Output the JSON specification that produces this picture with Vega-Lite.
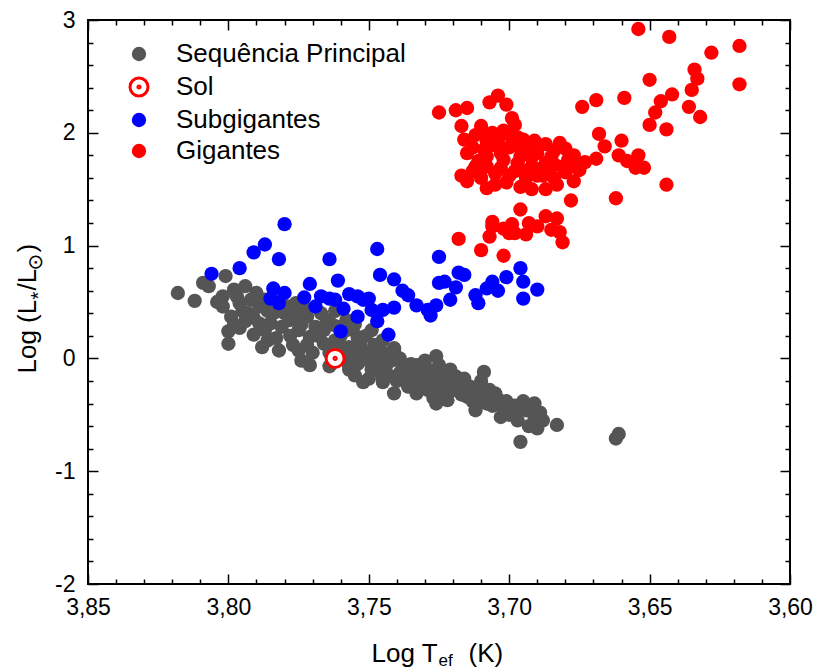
{
"$schema":"https://vega.github.io/schema/vega-lite/v6.json",
"width":702,"height":564,
"autosize":{"type":"none"},
"padding":{"left":88,"top":20,"right":24,"bottom":85},
"background":"white",
"config":{"view":{"stroke":"black","strokeWidth":2},"font":"Liberation Sans",
 "legend":{"title":null,"labelFontSize":26,"labelFont":"Liberation Sans","labelColor":"black","labelOffset":24,"labelLimit":0,"rowPadding":5,"padding":0}},
"datasets":{"stars":[
{"t":3.818,"l":0.58,"g":"Sequência Principal"},{"t":3.812,"l":0.51,"g":"Sequência Principal"},{"t":3.809,"l":0.67,"g":"Sequência Principal"},{"t":3.807,"l":0.64,"g":"Sequência Principal"},{"t":3.801,"l":0.73,"g":"Sequência Principal"},{"t":3.802,"l":0.55,"g":"Sequência Principal"},{"t":3.802,"l":0.46,"g":"Sequência Principal"},{"t":3.799,"l":0.37,"g":"Sequência Principal"},{"t":3.8,"l":0.24,"g":"Sequência Principal"},{"t":3.8,"l":0.13,"g":"Sequência Principal"},
{"t":3.798,"l":0.61,"g":"Sequência Principal"},{"t":3.794,"l":0.64,"g":"Sequência Principal"},{"t":3.796,"l":0.49,"g":"Sequência Principal"},{"t":3.793,"l":0.4,"g":"Sequência Principal"},{"t":3.796,"l":0.27,"g":"Sequência Principal"},{"t":3.792,"l":0.52,"g":"Sequência Principal"},{"t":3.79,"l":0.58,"g":"Sequência Principal"},{"t":3.789,"l":0.46,"g":"Sequência Principal"},{"t":3.789,"l":0.31,"g":"Sequência Principal"},{"t":3.791,"l":0.21,"g":"Sequência Principal"},
{"t":3.786,"l":0.16,"g":"Sequência Principal"},{"t":3.788,"l":0.1,"g":"Sequência Principal"},{"t":3.782,"l":0.07,"g":"Sequência Principal"},{"t":3.784,"l":0.4,"g":"Sequência Principal"},{"t":3.785,"l":0.31,"g":"Sequência Principal"},{"t":3.779,"l":0.46,"g":"Sequência Principal"},{"t":3.778,"l":0.34,"g":"Sequência Principal"},{"t":3.776,"l":0.49,"g":"Sequência Principal"},{"t":3.775,"l":0.25,"g":"Sequência Principal"},{"t":3.772,"l":0.37,"g":"Sequência Principal"},
{"t":3.771,"l":0.19,"g":"Sequência Principal"},{"t":3.771,"l":-0.06,"g":"Sequência Principal"},{"t":3.775,"l":0.07,"g":"Sequência Principal"},{"t":3.769,"l":0.28,"g":"Sequência Principal"},{"t":3.766,"l":0.13,"g":"Sequência Principal"},{"t":3.765,"l":0.34,"g":"Sequência Principal"},{"t":3.764,"l":-0.07,"g":"Sequência Principal"},{"t":3.762,"l":0.16,"g":"Sequência Principal"},{"t":3.758,"l":0.34,"g":"Sequência Principal"},{"t":3.757,"l":-0.07,"g":"Sequência Principal"},
{"t":3.752,"l":-0.21,"g":"Sequência Principal"},{"t":3.745,"l":-0.21,"g":"Sequência Principal"},{"t":3.741,"l":-0.31,"g":"Sequência Principal"},{"t":3.752,"l":0.05,"g":"Sequência Principal"},{"t":3.747,"l":-0.04,"g":"Sequência Principal"},{"t":3.741,"l":0.07,"g":"Sequência Principal"},{"t":3.738,"l":-0.07,"g":"Sequência Principal"},{"t":3.733,"l":-0.16,"g":"Sequência Principal"},{"t":3.726,"l":0.02,"g":"Sequência Principal"},{"t":3.725,"l":-0.16,"g":"Sequência Principal"},
{"t":3.726,"l":-0.4,"g":"Sequência Principal"},{"t":3.724,"l":-0.25,"g":"Sequência Principal"},{"t":3.733,"l":-0.31,"g":"Sequência Principal"},{"t":3.731,"l":-0.07,"g":"Sequência Principal"},{"t":3.745,"l":0.16,"g":"Sequência Principal"},{"t":3.754,"l":0.19,"g":"Sequência Principal"},{"t":3.749,"l":0.25,"g":"Sequência Principal"},{"t":3.761,"l":0.28,"g":"Sequência Principal"},{"t":3.757,"l":-0.1,"g":"Sequência Principal"},{"t":3.733,"l":-0.06,"g":"Sequência Principal"},
{"t":3.725,"l":-0.06,"g":"Sequência Principal"},{"t":3.722,"l":-0.37,"g":"Sequência Principal"},{"t":3.72,"l":-0.19,"g":"Sequência Principal"},{"t":3.715,"l":-0.34,"g":"Sequência Principal"},{"t":3.713,"l":-0.28,"g":"Sequência Principal"},{"t":3.709,"l":-0.12,"g":"Sequência Principal"},{"t":3.712,"l":-0.46,"g":"Sequência Principal"},{"t":3.708,"l":-0.4,"g":"Sequência Principal"},{"t":3.705,"l":-0.31,"g":"Sequência Principal"},{"t":3.703,"l":-0.52,"g":"Sequência Principal"},
{"t":3.699,"l":-0.46,"g":"Sequência Principal"},{"t":3.695,"l":-0.38,"g":"Sequência Principal"},{"t":3.691,"l":-0.4,"g":"Sequência Principal"},{"t":3.691,"l":-0.52,"g":"Sequência Principal"},{"t":3.69,"l":-0.62,"g":"Sequência Principal"},{"t":3.696,"l":-0.74,"g":"Sequência Principal"},{"t":3.683,"l":-0.59,"g":"Sequência Principal"},{"t":3.729,"l":-0.28,"g":"Sequência Principal"},{"t":3.735,"l":-0.21,"g":"Sequência Principal"},{"t":3.722,"l":-0.15,"g":"Sequência Principal"},
{"t":3.717,"l":-0.25,"g":"Sequência Principal"},{"t":3.739,"l":-0.13,"g":"Sequência Principal"},{"t":3.751,"l":-0.01,"g":"Sequência Principal"},{"t":3.744,"l":0.02,"g":"Sequência Principal"},{"t":3.662,"l":-0.71,"g":"Sequência Principal"},{"t":3.661,"l":-0.67,"g":"Sequência Principal"},{"t":3.697,"l":-0.47,"g":"Sequência Principal"},{"t":3.705,"l":-0.33,"g":"Sequência Principal"},{"t":3.71,"l":-0.32,"g":"Sequência Principal"},{"t":3.715,"l":-0.26,"g":"Sequência Principal"},
{"t":3.719,"l":-0.16,"g":"Sequência Principal"},{"t":3.741,"l":0.09,"g":"Sequência Principal"},{"t":3.745,"l":-0.19,"g":"Sequência Principal"},{"t":3.692,"l":-0.41,"g":"Sequência Principal"},
{"t":3.797,"l":0.55,"g":"Sequência Principal"},{"t":3.795,"l":0.42,"g":"Sequência Principal"},{"t":3.794,"l":0.33,"g":"Sequência Principal"},{"t":3.791,"l":0.36,"g":"Sequência Principal"},{"t":3.787,"l":0.52,"g":"Sequência Principal"},{"t":3.787,"l":0.25,"g":"Sequência Principal"},{"t":3.786,"l":0.42,"g":"Sequência Principal"},{"t":3.783,"l":0.55,"g":"Sequência Principal"},{"t":3.783,"l":0.18,"g":"Sequência Principal"},{"t":3.781,"l":0.28,"g":"Sequência Principal"},
{"t":3.78,"l":0.4,"g":"Sequência Principal"},{"t":3.804,"l":0.5,"g":"Sequência Principal"},{"t":3.798,"l":0.3,"g":"Sequência Principal"},{"t":3.778,"l":0.2,"g":"Sequência Principal"},{"t":3.777,"l":0.12,"g":"Sequência Principal"},{"t":3.776,"l":0.4,"g":"Sequência Principal"},{"t":3.774,"l":0.3,"g":"Sequência Principal"},{"t":3.773,"l":0.45,"g":"Sequência Principal"},{"t":3.772,"l":0.12,"g":"Sequência Principal"},{"t":3.77,"l":0.05,"g":"Sequência Principal"},
{"t":3.768,"l":0.2,"g":"Sequência Principal"},{"t":3.767,"l":0.4,"g":"Sequência Principal"},{"t":3.766,"l":0.25,"g":"Sequência Principal"},{"t":3.764,"l":0.05,"g":"Sequência Principal"},{"t":3.763,"l":0.3,"g":"Sequência Principal"},{"t":3.762,"l":0.42,"g":"Sequência Principal"},{"t":3.76,"l":0.1,"g":"Sequência Principal"},{"t":3.76,"l":0.2,"g":"Sequência Principal"},{"t":3.759,"l":0.0,"g":"Sequência Principal"},{"t":3.774,"l":-0.02,"g":"Sequência Principal"},
{"t":3.758,"l":0.25,"g":"Sequência Principal"},{"t":3.757,"l":0.1,"g":"Sequência Principal"},{"t":3.756,"l":0.02,"g":"Sequência Principal"},{"t":3.755,"l":0.3,"g":"Sequência Principal"},{"t":3.754,"l":-0.05,"g":"Sequência Principal"},{"t":3.753,"l":0.12,"g":"Sequência Principal"},{"t":3.751,"l":0.2,"g":"Sequência Principal"},{"t":3.75,"l":0.05,"g":"Sequência Principal"},{"t":3.749,"l":-0.1,"g":"Sequência Principal"},{"t":3.748,"l":0.12,"g":"Sequência Principal"},
{"t":3.747,"l":0.0,"g":"Sequência Principal"},{"t":3.746,"l":-0.12,"g":"Sequência Principal"},{"t":3.745,"l":0.05,"g":"Sequência Principal"},{"t":3.744,"l":-0.08,"g":"Sequência Principal"},{"t":3.743,"l":-0.15,"g":"Sequência Principal"},{"t":3.742,"l":-0.02,"g":"Sequência Principal"},{"t":3.74,"l":-0.2,"g":"Sequência Principal"},{"t":3.739,"l":0.0,"g":"Sequência Principal"},{"t":3.755,"l":-0.15,"g":"Sequência Principal"},{"t":3.75,"l":-0.18,"g":"Sequência Principal"},
{"t":3.738,"l":-0.1,"g":"Sequência Principal"},{"t":3.737,"l":-0.18,"g":"Sequência Principal"},{"t":3.736,"l":-0.25,"g":"Sequência Principal"},{"t":3.735,"l":-0.05,"g":"Sequência Principal"},{"t":3.734,"l":-0.12,"g":"Sequência Principal"},{"t":3.732,"l":-0.22,"g":"Sequência Principal"},{"t":3.731,"l":-0.15,"g":"Sequência Principal"},{"t":3.73,"l":-0.02,"g":"Sequência Principal"},{"t":3.729,"l":-0.1,"g":"Sequência Principal"},{"t":3.728,"l":-0.2,"g":"Sequência Principal"},
{"t":3.727,"l":-0.28,"g":"Sequência Principal"},{"t":3.726,"l":-0.1,"g":"Sequência Principal"},{"t":3.724,"l":-0.18,"g":"Sequência Principal"},{"t":3.723,"l":-0.3,"g":"Sequência Principal"},{"t":3.722,"l":-0.22,"g":"Sequência Principal"},{"t":3.721,"l":-0.1,"g":"Sequência Principal"},{"t":3.72,"l":-0.28,"g":"Sequência Principal"},{"t":3.727,"l":-0.35,"g":"Sequência Principal"},
{"t":3.718,"l":-0.22,"g":"Sequência Principal"},{"t":3.717,"l":-0.32,"g":"Sequência Principal"},{"t":3.716,"l":-0.18,"g":"Sequência Principal"},{"t":3.714,"l":-0.25,"g":"Sequência Principal"},{"t":3.713,"l":-0.38,"g":"Sequência Principal"},{"t":3.711,"l":-0.3,"g":"Sequência Principal"},{"t":3.71,"l":-0.2,"g":"Sequência Principal"},{"t":3.709,"l":-0.38,"g":"Sequência Principal"},{"t":3.707,"l":-0.28,"g":"Sequência Principal"},{"t":3.706,"l":-0.42,"g":"Sequência Principal"},
{"t":3.704,"l":-0.36,"g":"Sequência Principal"},{"t":3.702,"l":-0.44,"g":"Sequência Principal"},{"t":3.701,"l":-0.38,"g":"Sequência Principal"},{"t":3.7,"l":-0.5,"g":"Sequência Principal"},{"t":3.698,"l":-0.42,"g":"Sequência Principal"},{"t":3.697,"l":-0.55,"g":"Sequência Principal"},{"t":3.694,"l":-0.46,"g":"Sequência Principal"},{"t":3.693,"l":-0.6,"g":"Sequência Principal"},{"t":3.689,"l":-0.48,"g":"Sequência Principal"},{"t":3.688,"l":-0.55,"g":"Sequência Principal"},
{"t":3.806,"l":0.75,"g":"Subgigantes"},{"t":3.796,"l":0.8,"g":"Subgigantes"},{"t":3.791,"l":0.94,"g":"Subgigantes"},{"t":3.787,"l":1.01,"g":"Subgigantes"},{"t":3.782,"l":0.88,"g":"Subgigantes"},{"t":3.78,"l":1.19,"g":"Subgigantes"},{"t":3.764,"l":0.88,"g":"Subgigantes"},{"t":3.747,"l":0.97,"g":"Subgigantes"},{"t":3.725,"l":0.9,"g":"Subgigantes"},{"t":3.771,"l":0.66,"g":"Subgigantes"},
{"t":3.761,"l":0.69,"g":"Subgigantes"},{"t":3.746,"l":0.74,"g":"Subgigantes"},{"t":3.741,"l":0.7,"g":"Subgigantes"},{"t":3.784,"l":0.62,"g":"Subgigantes"},{"t":3.78,"l":0.58,"g":"Subgigantes"},{"t":3.785,"l":0.53,"g":"Subgigantes"},{"t":3.782,"l":0.49,"g":"Subgigantes"},{"t":3.769,"l":0.46,"g":"Subgigantes"},{"t":3.767,"l":0.55,"g":"Subgigantes"},{"t":3.762,"l":0.52,"g":"Subgigantes"},
{"t":3.757,"l":0.57,"g":"Subgigantes"},{"t":3.754,"l":0.55,"g":"Subgigantes"},{"t":3.75,"l":0.53,"g":"Subgigantes"},{"t":3.759,"l":0.44,"g":"Subgigantes"},{"t":3.754,"l":0.37,"g":"Subgigantes"},{"t":3.76,"l":0.24,"g":"Subgigantes"},{"t":3.749,"l":0.43,"g":"Subgigantes"},{"t":3.747,"l":0.33,"g":"Subgigantes"},{"t":3.745,"l":0.43,"g":"Subgigantes"},{"t":3.743,"l":0.21,"g":"Subgigantes"},
{"t":3.738,"l":0.6,"g":"Subgigantes"},{"t":3.736,"l":0.56,"g":"Subgigantes"},{"t":3.733,"l":0.47,"g":"Subgigantes"},{"t":3.729,"l":0.43,"g":"Subgigantes"},{"t":3.728,"l":0.38,"g":"Subgigantes"},{"t":3.726,"l":0.47,"g":"Subgigantes"},{"t":3.725,"l":0.67,"g":"Subgigantes"},{"t":3.723,"l":0.68,"g":"Subgigantes"},{"t":3.721,"l":0.52,"g":"Subgigantes"},{"t":3.719,"l":0.63,"g":"Subgigantes"},
{"t":3.718,"l":0.76,"g":"Subgigantes"},{"t":3.716,"l":0.74,"g":"Subgigantes"},{"t":3.712,"l":0.56,"g":"Subgigantes"},{"t":3.711,"l":0.49,"g":"Subgigantes"},{"t":3.708,"l":0.62,"g":"Subgigantes"},{"t":3.706,"l":0.68,"g":"Subgigantes"},{"t":3.704,"l":0.6,"g":"Subgigantes"},{"t":3.701,"l":0.72,"g":"Subgigantes"},{"t":3.696,"l":0.8,"g":"Subgigantes"},{"t":3.695,"l":0.68,"g":"Subgigantes"},
{"t":3.695,"l":0.53,"g":"Subgigantes"},{"t":3.69,"l":0.61,"g":"Subgigantes"},{"t":3.773,"l":0.54,"g":"Subgigantes"},{"t":3.764,"l":0.53,"g":"Subgigantes"},{"t":3.752,"l":0.52,"g":"Subgigantes"},{"t":3.741,"l":0.45,"g":"Subgigantes"},
{"t":3.654,"l":2.92,"g":"Gigantes"},{"t":3.643,"l":2.85,"g":"Gigantes"},{"t":3.618,"l":2.77,"g":"Gigantes"},{"t":3.628,"l":2.71,"g":"Gigantes"},{"t":3.634,"l":2.56,"g":"Gigantes"},{"t":3.633,"l":2.48,"g":"Gigantes"},{"t":3.618,"l":2.43,"g":"Gigantes"},{"t":3.65,"l":2.47,"g":"Gigantes"},{"t":3.635,"l":2.38,"g":"Gigantes"},{"t":3.642,"l":2.34,"g":"Gigantes"},
{"t":3.646,"l":2.28,"g":"Gigantes"},{"t":3.659,"l":2.31,"g":"Gigantes"},{"t":3.669,"l":2.29,"g":"Gigantes"},{"t":3.674,"l":2.23,"g":"Gigantes"},{"t":3.636,"l":2.23,"g":"Gigantes"},{"t":3.632,"l":2.14,"g":"Gigantes"},{"t":3.648,"l":2.18,"g":"Gigantes"},{"t":3.65,"l":2.07,"g":"Gigantes"},{"t":3.644,"l":2.03,"g":"Gigantes"},{"t":3.668,"l":1.99,"g":"Gigantes"},
{"t":3.666,"l":1.88,"g":"Gigantes"},{"t":3.66,"l":1.93,"g":"Gigantes"},{"t":3.661,"l":1.8,"g":"Gigantes"},{"t":3.654,"l":1.8,"g":"Gigantes"},{"t":3.658,"l":1.75,"g":"Gigantes"},{"t":3.655,"l":1.69,"g":"Gigantes"},{"t":3.652,"l":1.69,"g":"Gigantes"},{"t":3.644,"l":1.54,"g":"Gigantes"},{"t":3.662,"l":1.42,"g":"Gigantes"},{"t":3.669,"l":1.77,"g":"Gigantes"},
{"t":3.673,"l":1.74,"g":"Gigantes"},{"t":3.725,"l":2.18,"g":"Gigantes"},{"t":3.719,"l":2.2,"g":"Gigantes"},{"t":3.715,"l":2.22,"g":"Gigantes"},{"t":3.717,"l":2.06,"g":"Gigantes"},{"t":3.71,"l":2.06,"g":"Gigantes"},{"t":3.71,"l":2.02,"g":"Gigantes"},{"t":3.707,"l":2.27,"g":"Gigantes"},{"t":3.704,"l":2.33,"g":"Gigantes"},{"t":3.701,"l":2.25,"g":"Gigantes"},
{"t":3.699,"l":2.13,"g":"Gigantes"},{"t":3.698,"l":2.07,"g":"Gigantes"},{"t":3.716,"l":1.94,"g":"Gigantes"},{"t":3.713,"l":1.87,"g":"Gigantes"},{"t":3.715,"l":1.82,"g":"Gigantes"},{"t":3.706,"l":2.0,"g":"Gigantes"},{"t":3.706,"l":1.89,"g":"Gigantes"},{"t":3.7,"l":1.98,"g":"Gigantes"},{"t":3.695,"l":1.94,"g":"Gigantes"},{"t":3.693,"l":1.88,"g":"Gigantes"},
{"t":3.687,"l":1.9,"g":"Gigantes"},{"t":3.682,"l":1.91,"g":"Gigantes"},{"t":3.68,"l":1.86,"g":"Gigantes"},{"t":3.708,"l":1.79,"g":"Gigantes"},{"t":3.703,"l":1.82,"g":"Gigantes"},{"t":3.7,"l":1.87,"g":"Gigantes"},{"t":3.696,"l":1.79,"g":"Gigantes"},{"t":3.69,"l":1.82,"g":"Gigantes"},{"t":3.685,"l":1.79,"g":"Gigantes"},{"t":3.677,"l":1.8,"g":"Gigantes"},
{"t":3.712,"l":1.7,"g":"Gigantes"},{"t":3.713,"l":1.66,"g":"Gigantes"},{"t":3.708,"l":1.7,"g":"Gigantes"},{"t":3.703,"l":1.69,"g":"Gigantes"},{"t":3.697,"l":1.73,"g":"Gigantes"},{"t":3.692,"l":1.7,"g":"Gigantes"},{"t":3.687,"l":1.73,"g":"Gigantes"},{"t":3.681,"l":1.7,"g":"Gigantes"},{"t":3.677,"l":1.7,"g":"Gigantes"},{"t":3.675,"l":1.67,"g":"Gigantes"},
{"t":3.715,"l":1.57,"g":"Gigantes"},{"t":3.708,"l":1.51,"g":"Gigantes"},{"t":3.705,"l":1.54,"g":"Gigantes"},{"t":3.7,"l":1.62,"g":"Gigantes"},{"t":3.694,"l":1.6,"g":"Gigantes"},{"t":3.692,"l":1.5,"g":"Gigantes"},{"t":3.69,"l":1.62,"g":"Gigantes"},{"t":3.687,"l":1.5,"g":"Gigantes"},{"t":3.683,"l":1.54,"g":"Gigantes"},{"t":3.677,"l":1.57,"g":"Gigantes"},
{"t":3.678,"l":1.4,"g":"Gigantes"},{"t":3.68,"l":1.65,"g":"Gigantes"},{"t":3.709,"l":1.85,"g":"Gigantes"},{"t":3.696,"l":1.87,"g":"Gigantes"},{"t":3.705,"l":1.64,"g":"Gigantes"},{"t":3.686,"l":1.67,"g":"Gigantes"},{"t":3.702,"l":1.76,"g":"Gigantes"},{"t":3.698,"l":1.66,"g":"Gigantes"},{"t":3.692,"l":1.78,"g":"Gigantes"},{"t":3.688,"l":1.62,"g":"Gigantes"},
{"t":3.684,"l":1.72,"g":"Gigantes"},{"t":3.694,"l":1.84,"g":"Gigantes"},{"t":3.704,"l":1.92,"g":"Gigantes"},{"t":3.711,"l":1.75,"g":"Gigantes"},
{"t":3.712,"l":1.98,"g":"Gigantes"},{"t":3.708,"l":1.92,"g":"Gigantes"},{"t":3.702,"l":2.02,"g":"Gigantes"},{"t":3.697,"l":1.96,"g":"Gigantes"},{"t":3.691,"l":1.93,"g":"Gigantes"},{"t":3.684,"l":1.84,"g":"Gigantes"},{"t":3.679,"l":1.76,"g":"Gigantes"},{"t":3.689,"l":1.68,"g":"Gigantes"},{"t":3.695,"l":1.66,"g":"Gigantes"},{"t":3.71,"l":1.6,"g":"Gigantes"},
{"t":3.717,"l":1.62,"g":"Gigantes"},{"t":3.701,"l":1.56,"g":"Gigantes"},{"t":3.696,"l":1.52,"g":"Gigantes"},{"t":3.684,"l":1.6,"g":"Gigantes"},
{"t":3.696,"l":1.32,"g":"Gigantes"},{"t":3.706,"l":1.21,"g":"Gigantes"},{"t":3.706,"l":1.17,"g":"Gigantes"},{"t":3.702,"l":1.15,"g":"Gigantes"},{"t":3.699,"l":1.19,"g":"Gigantes"},{"t":3.698,"l":1.11,"g":"Gigantes"},{"t":3.694,"l":1.1,"g":"Gigantes"},{"t":3.693,"l":1.2,"g":"Gigantes"},{"t":3.69,"l":1.17,"g":"Gigantes"},{"t":3.687,"l":1.26,"g":"Gigantes"},
{"t":3.683,"l":1.24,"g":"Gigantes"},{"t":3.685,"l":1.14,"g":"Gigantes"},{"t":3.682,"l":1.12,"g":"Gigantes"},{"t":3.681,"l":1.03,"g":"Gigantes"},{"t":3.707,"l":1.08,"g":"Gigantes"},{"t":3.7,"l":1.11,"g":"Gigantes"},{"t":3.718,"l":1.06,"g":"Gigantes"},{"t":3.71,"l":0.96,"g":"Gigantes"},{"t":3.702,"l":0.91,"g":"Gigantes"},
{"t":3.762,"l":0.0,"g":"Sol"}
]},
"data":{"name":"stars"},
"layer":[
{"mark":{"type":"point","filled":true,"opacity":1},
 "encoding":{
  "x":{"field":"t","type":"quantitative","scale":{"domain":[3.6,3.85],"reverse":true,"nice":false,"zero":false},
   "axis":{"orient":"bottom","values":[3.6,3.61,3.62,3.63,3.64,3.65,3.66,3.67,3.68,3.69,3.7,3.71,3.72,3.73,3.74,3.75,3.76,3.77,3.78,3.79,3.8,3.81,3.82,3.83,3.84,3.85],
    "domain":false,"grid":false,"tickColor":"black","tickWidth":1.5,
    "tickSize":{"condition":{"test":"abs(datum.value*20-round(datum.value*20))<0.01","value":-10},"value":-5},
    "labelExpr":"abs(datum.value*20-round(datum.value*20))<0.01 ? replace(format(datum.value,'.2f'),'.',',') : ''",
    "labelFont":"Liberation Sans","labelFontSize":23,"labelColor":"black","labelPadding":22,"labelOverlap":false,"labelFlush":false,"labelBound":false,
    "title":"Log T","titleFont":"Liberation Sans","titleFontSize":26,"titleFontWeight":"normal","titleColor":"black","titleAlign":"left","titleBaseline":"alphabetic","titleAngle":0,"titleX":283,"titleY":77}},
  "y":{"field":"l","type":"quantitative","scale":{"domain":[-2,3],"nice":false,"zero":false},
   "axis":{"orient":"left","values":[-2,-1.8,-1.6,-1.4,-1.2,-1,-0.8,-0.6,-0.4,-0.2,0,0.2,0.4,0.6,0.8,1,1.2,1.4,1.6,1.8,2,2.2,2.4,2.6,2.8,3],
    "domain":false,"grid":false,"tickColor":"black","tickWidth":1.5,
    "tickSize":{"condition":{"test":"abs(datum.value-round(datum.value))<0.01","value":-10},"value":-5},
    "labelExpr":"abs(datum.value-round(datum.value))<0.01 ? ''+round(datum.value) : ''",
    "labelFont":"Liberation Sans","labelFontSize":23,"labelColor":"black","labelPadding":23,"labelOverlap":false,"labelFlush":false,"labelBound":false,
    "title":"Log (L","titleFont":"Liberation Sans","titleFontSize":26,"titleFontWeight":"normal","titleColor":"black","titleAlign":"left","titleBaseline":"alphabetic","titleAngle":-90,"titleX":-53,"titleY":353}},
  "fill":{"field":"g","type":"nominal","scale":{"domain":["Sequência Principal","Sol","Subgigantes","Gigantes"],"range":["#555555","#ffffff","#0000ff","#ff0000"]},
   "legend":{"orient":"none","legendX":38,"legendY":21}},
  "stroke":{"field":"g","type":"nominal","scale":{"domain":["Sequência Principal","Sol","Subgigantes","Gigantes"],"range":["#555555","#ff0000","#0000ff","#ff0000"]}},
  "shape":{"field":"g","type":"nominal","scale":{"domain":["Sequência Principal","Sol","Subgigantes","Gigantes"],"range":["circle","M-1,0A1,1 0 1,1 1,0A1,1 0 1,1 -1,0Z M-0.12,0A0.12,0.12 0 1,1 0.12,0A0.12,0.12 0 1,1 -0.12,0Z","circle","circle"]}},
  "size":{"field":"g","type":"nominal","scale":{"type":"ordinal","domain":["Sequência Principal","Sol","Subgigantes","Gigantes"],"range":[205,324,205,205]}},
  "strokeWidth":{"field":"g","type":"nominal","scale":{"type":"ordinal","domain":["Sequência Principal","Sol","Subgigantes","Gigantes"],"range":[0,3,0,0]}}
 }},
{"mark":{"type":"point","opacity":0},
 "encoding":{
  "x":{"field":"t","type":"quantitative",
   "axis":{"orient":"top","values":[3.6,3.61,3.62,3.63,3.64,3.65,3.66,3.67,3.68,3.69,3.7,3.71,3.72,3.73,3.74,3.75,3.76,3.77,3.78,3.79,3.8,3.81,3.82,3.83,3.84,3.85],
    "domain":false,"grid":false,"labels":false,"tickColor":"black","tickWidth":1.5,
    "tickSize":{"condition":{"test":"abs(datum.value*20-round(datum.value*20))<0.01","value":-10},"value":-5},
    "title":"ef","titleFont":"Liberation Sans","titleFontSize":17,"titleFontWeight":"normal","titleColor":"black","titleAlign":"left","titleBaseline":"alphabetic","titleAngle":0,"titleX":350,"titleY":645}},
  "y":{"field":"l","type":"quantitative",
   "axis":{"orient":"right","values":[-2,-1.8,-1.6,-1.4,-1.2,-1,-0.8,-0.6,-0.4,-0.2,0,0.2,0.4,0.6,0.8,1,1.2,1.4,1.6,1.8,2,2.2,2.4,2.6,2.8,3],
    "domain":false,"grid":false,"labels":false,"tickColor":"black","tickWidth":1.5,
    "tickSize":{"condition":{"test":"abs(datum.value-round(datum.value))<0.01","value":-10},"value":-5},
    "title":"*","titleFont":"Liberation Sans","titleFontSize":20,"titleFontWeight":"normal","titleColor":"black","titleAlign":"left","titleBaseline":"alphabetic","titleAngle":-90,"titleX":-746,"titleY":279}}
 }},
{"mark":{"type":"point","opacity":0},
 "encoding":{
  "x":{"field":"t","type":"quantitative",
   "axis":{"orient":"bottom","domain":false,"grid":false,"ticks":false,"labels":false,
    "title":"(K)","titleFont":"Liberation Sans","titleFontSize":26,"titleFontWeight":"normal","titleColor":"black","titleAlign":"left","titleBaseline":"alphabetic","titleAngle":0,"titleX":380,"titleY":77}},
  "y":{"field":"l","type":"quantitative",
   "axis":{"orient":"left","domain":false,"grid":false,"ticks":false,"labels":false,
    "title":"/L","titleFont":"Liberation Sans","titleFontSize":26,"titleFontWeight":"normal","titleColor":"black","titleAlign":"left","titleBaseline":"alphabetic","titleAngle":-90,"titleX":-53,"titleY":270}}
 }},
{"mark":{"type":"point","opacity":0},
 "encoding":{
  "x":{"field":"t","type":"quantitative","axis":null},
  "y":{"field":"l","type":"quantitative",
   "axis":{"orient":"left","domain":false,"grid":false,"ticks":false,"labels":false,
    "title":"⊙","titleFont":"DejaVu Sans","titleFontSize":20,"titleFontWeight":"normal","titleColor":"black","titleAlign":"left","titleBaseline":"alphabetic","titleAngle":-90,"titleX":-47,"titleY":250}}
 }},
{"mark":{"type":"point","opacity":0},
 "encoding":{
  "x":{"field":"t","type":"quantitative","axis":null},
  "y":{"field":"l","type":"quantitative",
   "axis":{"orient":"left","domain":false,"grid":false,"ticks":false,"labels":false,
    "title":")","titleFont":"Liberation Sans","titleFontSize":26,"titleFontWeight":"normal","titleColor":"black","titleAlign":"left","titleBaseline":"alphabetic","titleAngle":-90,"titleX":-53,"titleY":232}}
 }}
],
"resolve":{"axis":{"x":"independent","y":"independent"}}
}
